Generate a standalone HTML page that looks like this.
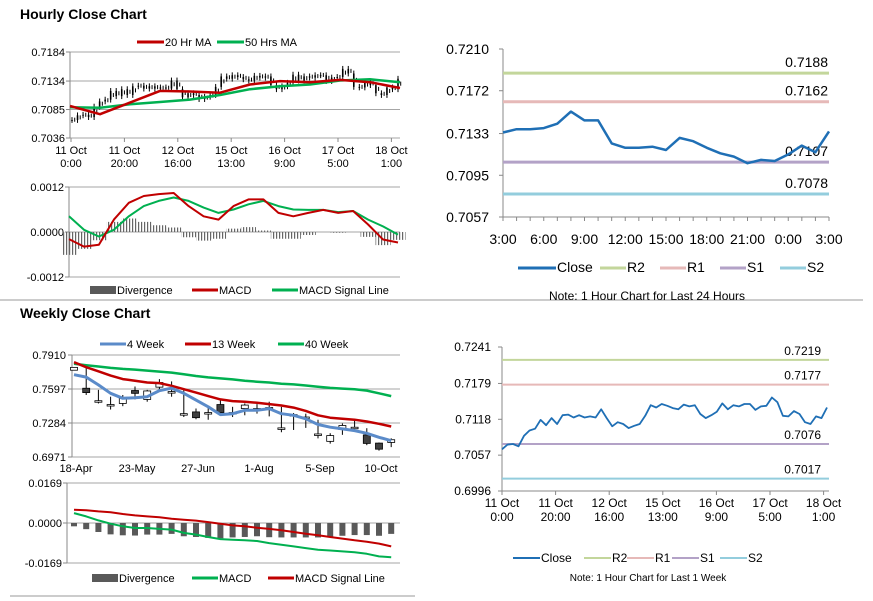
<!DOCTYPE html>
<html><head><meta charset="utf-8">
<style>
html,body{margin:0;padding:0;background:#fff;}
svg{display:block;font-family:"Liberation Sans",Arial,sans-serif;}
</style></head>
<body>
<svg id="s" width="873" height="601" viewBox="0 0 873 601" xmlns="http://www.w3.org/2000/svg">
<defs>
<pattern id="stripe" width="3" height="4" patternUnits="userSpaceOnUse"><rect x="0" y="0" width="1.2" height="4" fill="#666"/></pattern>
</defs>
<text x="20" y="19" font-size="14" font-weight="bold" fill="#000">Hourly Close Chart</text>
<text x="20" y="318" font-size="14" font-weight="bold" fill="#000">Weekly Close Chart</text>
<line x1="0" y1="300" x2="863" y2="300" stroke="#999" stroke-width="1"/>
<line x1="10" y1="596" x2="415" y2="596" stroke="#999" stroke-width="1"/>
<g id="g"></g>
</svg>
<script>
// ---------- data ----------
const hourlyClose=[0.7067,0.7075,0.7076,0.7072,0.7090,0.7099,0.7102,0.7117,0.7108,0.7120,0.7110,0.7125,0.7126,0.7121,0.7125,0.7121,0.7123,0.7121,0.7135,0.7120,0.7106,0.7113,0.7110,0.7103,0.7107,0.7110,0.7124,0.7142,0.7138,0.7144,0.7141,0.7137,0.7135,0.7143,0.7140,0.7142,0.7127,0.7120,0.7125,0.7131,0.7145,0.7135,0.7142,0.7140,0.7144,0.7144,0.7134,0.7140,0.7141,0.7155,0.7147,0.7124,0.7123,0.7132,0.7127,0.7113,0.7110,0.7123,0.7120,0.7138];
const ma20=[0.7091,0.7077,0.7097,0.7117,0.7116,0.7114,0.7128,0.7134,0.7132,0.7136,0.7132,0.7122];
const ma50=[0.7089,0.7088,0.7094,0.7098,0.7102,0.7110,0.7120,0.7125,0.7128,0.7135,0.7137,0.7132];
const hMacd=[-0.00019,-0.00039,-0.00034,0.00033,0.00078,0.00096,0.00101,0.00104,0.00069,0.00042,0.00033,0.00069,0.00087,0.00087,0.00051,0.00042,0.00051,0.00059,0.00051,0.00056,0.00020,-0.00020,-0.00028];
const hSignal=[0.00042,0.00006,-0.00012,0.00006,0.00042,0.00069,0.00083,0.00092,0.00083,0.00065,0.00051,0.00060,0.00074,0.00083,0.00069,0.00060,0.00059,0.00059,0.00053,0.00056,0.00033,0.00015,-0.00007];
const hTicks=["0.7184","0.7134","0.7085","0.7036"];
const hMacdTicks=["0.0012","0.0000","-0.0012"];
const hXLabels=[["11 Oct","0:00"],["11 Oct","20:00"],["12 Oct","16:00"],["15 Oct","13:00"],["16 Oct","9:00"],["17 Oct","5:00"],["18 Oct","1:00"]];

const wOpen=[0.7770,0.7604,0.7489,0.7454,0.7464,0.7583,0.7501,0.7614,0.7573,0.7370,0.7386,0.7380,0.7454,0.7380,0.7417,0.7417,0.7426,0.7239,0.7361,0.7339,0.7183,0.7115,0.7224,0.7245,0.7174,0.7099,0.7105];
const wClose=[0.7796,0.7564,0.7489,0.7454,0.7511,0.7557,0.7579,0.7657,0.7573,0.7370,0.7333,0.7380,0.7380,0.7380,0.7449,0.7417,0.7426,0.7239,0.7361,0.7339,0.7183,0.7168,0.7261,0.7245,0.7096,0.7043,0.7130];
const wHigh=[0.7798,0.7791,0.7589,0.7526,0.7542,0.7620,0.7589,0.7688,0.7667,0.7589,0.7417,0.7433,0.7495,0.7433,0.7464,0.7458,0.7480,0.7433,0.7376,0.7370,0.7314,0.7190,0.7280,0.7308,0.7236,0.7105,0.7143];
const wLow=[0.7770,0.7542,0.7464,0.7408,0.7439,0.7501,0.7480,0.7589,0.7526,0.7339,0.7318,0.7314,0.7370,0.7339,0.7355,0.7370,0.7345,0.7199,0.7220,0.7239,0.7142,0.7094,0.7175,0.7220,0.7080,0.7030,0.7062];
const w4=[0.7729,0.7707,0.7635,0.7557,0.7511,0.7517,0.7526,0.7582,0.7604,0.7557,0.7495,0.7433,0.7361,0.7370,0.7401,0.7401,0.7417,0.7370,0.7355,0.7323,0.7270,0.7245,0.7230,0.7214,0.7189,0.7152,0.7121];
const w13=[0.7844,0.7798,0.7760,0.7720,0.7688,0.7673,0.7657,0.7651,0.7626,0.7595,0.7564,0.7532,0.7501,0.7486,0.7479,0.7470,0.7458,0.7445,0.7426,0.7395,0.7355,0.7333,0.7323,0.7314,0.7298,0.7277,0.7252];
const w40=[0.7829,0.7816,0.7804,0.7791,0.7782,0.7776,0.7766,0.7757,0.7748,0.7732,0.7717,0.7704,0.7695,0.7685,0.7673,0.7664,0.7657,0.7645,0.7639,0.7629,0.7617,0.7607,0.7601,0.7595,0.7582,0.7557,0.7532];
const wMacd=[0.0042,0.0028,0.0011,-0.0003,-0.0014,-0.0021,-0.0021,-0.0025,-0.0028,-0.0042,-0.0049,-0.0059,-0.0068,-0.0071,-0.0073,-0.0076,-0.0085,-0.0092,-0.0099,-0.0106,-0.0113,-0.0116,-0.0120,-0.0124,-0.0130,-0.0141,-0.0145];
const wSignal=[0.0056,0.0054,0.0049,0.0045,0.0038,0.0032,0.0028,0.0024,0.0018,0.0014,0.0010,0.0004,-0.0003,-0.0010,-0.0014,-0.0020,-0.0025,-0.0031,-0.0038,-0.0045,-0.0052,-0.0059,-0.0066,-0.0073,-0.0079,-0.0087,-0.0099];
const wTicks=["0.7910","0.7597","0.7284","0.6971"];
const wMacdTicks=["0.0169","0.0000","-0.0169"];
const wXLabels=["18-Apr","23-May","27-Jun","1-Aug","5-Sep","10-Oct"];

const dayClose=[0.7134,0.7137,0.7137,0.7138,0.7142,0.7153,0.7145,0.7145,0.7124,0.7120,0.7120,0.7121,0.7118,0.7129,0.7126,0.7120,0.7115,0.7112,0.7106,0.7109,0.7108,0.7114,0.7122,0.7116,0.7135];
const dayTicks=["0.7210","0.7172","0.7133","0.7095","0.7057"];
const dayXLabels=["3:00","6:00","9:00","12:00","15:00","18:00","21:00","0:00","3:00"];
const dayLevels=[0.7188,0.7162,0.7107,0.7078];
const weekTicks=["0.7241","0.7179","0.7118","0.7057","0.6996"];
const weekLevels=[0.7219,0.7177,0.7076,0.7017];
const levelNames=["R2","R1","S1","S2"];

// ---------- helpers ----------
const NS="http://www.w3.org/2000/svg";
const G=document.getElementById('g');
function el(tag,attrs,parent){const e=document.createElementNS(NS,tag);for(const k in attrs)e.setAttribute(k,attrs[k]);(parent||G).appendChild(e);return e;}
function txt(x,y,s,size,anchor,name,fill){const t=el('text',{x:x,y:y,'font-size':size,'text-anchor':anchor||'start',fill:fill||'#000'});t.textContent=s;


return t;}
function lin(d0,d1,r0,r1){return v=>r0+(v-d0)*(r1-r0)/(d1-d0);}
function poly(pts,color,w,name){const p=el('polyline',{points:pts.map(p=>p[0].toFixed(1)+','+p[1].toFixed(1)).join(' '),fill:'none',stroke:color,'stroke-width':w,'stroke-linejoin':'round'});


return p;}
function hline(x1,x2,y,color,w,name){const l=el('line',{x1:x1,x2:x2,y1:y,y2:y,stroke:color,'stroke-width':w});


return l;}
function vline(x,y1,y2,color,w,name){const l=el('line',{x1:x,x2:x,y1:y1,y2:y2,stroke:color,'stroke-width':w});


return l;}
function legendLine(x,y,len,color,w,label,size,name){hline(x,x+len,y,color,w,name+'-swatch');txt(x+len+1,y+4,label,size,'start',name);}
function legendBar(x,y,len,label,size,name){const r=el('rect',{x:x,y:y-4,width:len,height:8,fill:'#595959'});


txt(x+len+1,y+4,label,size,'start',name);}
function yGrid(x0,x1,ys,labels,size,labX,name){ys.forEach((y,i)=>{hline(x0,x1,y,'#a6a6a6',1,name+'-gridline');hline(x0-4,x0,y,'#888',1,name+'-tick');txt(labX,y+4,labels[i],size,'end',name+'-label');});}

// ---------- Hourly candle chart ----------
{const x0=70,x1=400,yT=52,yB=138;
 const Y=lin(0.7184,0.7036,yT,yB);
 yGrid(x0,x1,hTicks.map(t=>Y(+t)),hTicks,11,65,'hourly-y');
 vline(x0,yT,yB,'#888',1,'hourly-y-axis');
 hXLabels.forEach((l,i)=>{const x=71+i*53.4;vline(x,yB,yB+4,'#888',1,'hourly-x-tick');txt(x,yB+16,l[0],11,'middle','hourly-x-label');txt(x,yB+29,l[1],11,'middle','hourly-x-label');});
 const X=lin(0,hourlyClose.length-1,x0+2,x1-2);
 hourlyClose.forEach((c,i)=>{const o=i?hourlyClose[i-1]:c;const x=X(i);
  vline(x,Y(Math.max(o,c)+0.0005),Y(Math.min(o,c)-0.0005),'#000',1,'hourly-candle-wick');
  vline(x+2.7,Y((o+c)/2+0.0004),Y((o+c)/2-0.0003),'#000',1,'hourly-candle-wick');
  const r=el('rect',{x:x-0.8,y:Y(Math.max(o,c)),width:1.6,height:Math.max(1,Math.abs(Y(o)-Y(c))),fill:'#000'});
  
  });
 const MX=lin(0,ma20.length-1,x0,x1);
 poly(ma50.map((v,i)=>[MX(i),Y(v)]),'#00B050',2.5,'ma50-line');
 poly(ma20.map((v,i)=>[MX(i),Y(v)]),'#C00000',2.5,'ma20-line');
 legendLine(137,42,27,'#C00000',3,'20 Hr MA',11,'legend-20hr-ma');
 legendLine(217,42,27,'#00B050',3,'50 Hrs MA',11,'legend-50hr-ma');
}
// ---------- Hourly MACD ----------
{const x0=69,x1=400,yT=187,yB=277;
 const Y=lin(0.0012,-0.0012,yT,yB);
 yGrid(x0,x1,hMacdTicks.map(t=>Y(+t)),hMacdTicks,11,64,'hourly-macd-y');
 vline(x0,yT,yB,'#888',1,'hourly-macd-y-axis');
 const X=lin(0,hMacd.length-1,x0,x1-2);const bw=(x1-x0)/(hMacd.length-1);
 hMacd.forEach((m,i)=>{const d=m-hSignal[i];const y0=Y(0),y1=Y(d);
  const r=el('rect',{x:X(i)-bw/2,y:Math.min(y0,y1),width:bw,height:Math.abs(y1-y0),fill:'url(#stripe)'});
  
  });
 poly(hSignal.map((v,i)=>[X(i),Y(v)]),'#00B050',2,'hourly-signal-line');
 poly(hMacd.map((v,i)=>[X(i),Y(v)]),'#C00000',2,'hourly-macd-line');
 legendBar(90,290,26,'Divergence',11,'legend-divergence');
 legendLine(192,290,26,'#C00000',3,'MACD',11,'legend-macd');
 legendLine(272,290,26,'#00B050',3,'MACD Signal Line',11,'legend-signal');
}
// ---------- Weekly candle chart ----------
{const x0=72,x1=400,yT=355,yB=457;
 const Y=lin(0.7910,0.6971,yT,yB);
 yGrid(x0,x1,wTicks.map(t=>Y(+t)),wTicks,11,66,'weekly-y');
 vline(x0,yT,yB,'#888',1,'weekly-y-axis');
 const X=i=>74+i*12.2;
 wXLabels.forEach((l,i)=>{const x=X(i*5)+2;txt(x,472,l,11,'middle','weekly-x-label');});
 wOpen.forEach((o,i)=>{const c=wClose[i],x=X(i);
  vline(x,Y(wHigh[i]),Y(wLow[i]),'#000',1,'weekly-candle-wick');
  const r=el('rect',{x:x-3.5,y:Y(Math.max(o,c)),width:7,height:Math.max(1.5,Math.abs(Y(o)-Y(c))),fill:c>=o?'#fff':'#404040',stroke:'#000','stroke-width':0.8});
  
  });
 poly(w40.map((v,i)=>[X(i),Y(v)]),'#00B050',2.5,'ma40w-line');
 poly(w13.map((v,i)=>[X(i),Y(v)]),'#C00000',2.5,'ma13w-line');
 poly(w4.map((v,i)=>[X(i),Y(v)]),'#5B8BC9',3,'ma4w-line');
 legendLine(100,344,26,'#5B8BC9',3,'4 Week',11,'legend-4-week');
 legendLine(185,344,26,'#C00000',3,'13 Week',11,'legend-13-week');
 legendLine(278,344,26,'#00B050',3,'40 Week',11,'legend-40-week');
}
// ---------- Weekly MACD ----------
{const x0=67,x1=400,yT=483,yB=563;
 const Y=lin(0.0169,-0.0169,yT,yB);
 yGrid(x0,x1,wMacdTicks.map(t=>Y(+t)),wMacdTicks,11,62,'weekly-macd-y');
 vline(x0,yT,yB,'#888',1,'weekly-macd-y-axis');
 const X=i=>74+i*12.2;
 wMacd.forEach((m,i)=>{const d=m-wSignal[i];const y0=Y(0),y1=Y(d);
  const r=el('rect',{x:X(i)-3,y:Math.min(y0,y1),width:6,height:Math.abs(y1-y0),fill:'#595959'});
  
  });
 poly(wMacd.map((v,i)=>[X(i),Y(v)]),'#00B050',2,'weekly-macd-line');
 poly(wSignal.map((v,i)=>[X(i),Y(v)]),'#C00000',2,'weekly-signal-line');
 legendBar(92,578,26,'Divergence',11,'legend-weekly-divergence');
 legendLine(192,578,26,'#00B050',3,'MACD',11,'legend-weekly-macd');
 legendLine(268,578,26,'#C00000',3,'MACD Signal Line',11,'legend-weekly-signal');
}
const lvlColors=['#C3D69B','#E6B9B8','#B3A2C7','#93CDDD'];
// ---------- Right top: 24h ----------
{const x0=503,x1=829,yT=49,yB=217;
 const Y=lin(0.7210,0.7057,yT,yB);
 dayTicks.forEach(t=>{hline(x0-4,x0,Y(+t),'#888',1,'day-y-tick');txt(489,Y(+t)+5,t,14,'end','day-y-label');});
 vline(x0,yT,yB,'#888',1,'day-y-axis');hline(x0,x1,yB,'#888',1,'day-x-axis');
 const X=lin(0,dayClose.length-1,x0,x1);
 for(let i=0;i<dayClose.length;i++)vline(X(i),yB,yB+4,'#888',1,'day-x-tick');
 dayXLabels.forEach((l,i)=>txt(X(i*3),244,l,14,'middle','day-x-label'));
 dayLevels.forEach((v,i)=>{hline(x0,x1,Y(v),lvlColors[i],3,'day-level-'+levelNames[i].toLowerCase());txt(828,Y(v)-6,v.toFixed(4),14,'end','day-level-label');});
 poly(dayClose.map((v,i)=>[X(i),Y(v)]),'#1F6FB5',2.5,'day-close-line');
 legendLine(518,268,38,'#1F6FB5',3,'Close',14,'legend-close');
 legendLine(600,268,26,lvlColors[0],3,'R2',14,'legend-r2');
 legendLine(660,268,26,lvlColors[1],3,'R1',14,'legend-r1');
 legendLine(720,268,26,lvlColors[2],3,'S1',14,'legend-s1');
 legendLine(780,268,26,lvlColors[3],3,'S2',14,'legend-s2');
 txt(647,300,'Note: 1 Hour Chart for Last 24 Hours',12,'middle','day-note');
}
// ---------- Right bottom: week ----------
{const x0=502,x1=829,yT=347,yB=491;
 const Y=lin(0.7241,0.6996,yT,yB);
 weekTicks.forEach(t=>{hline(x0-4,x0,Y(+t),'#888',1,'week-y-tick');txt(491,Y(+t)+4,t,12,'end','week-y-label');});
 vline(x0,yT,yB,'#888',1,'week-y-axis');hline(x0,x1,yB,'#888',1,'week-x-axis');
 hXLabels.forEach((l,i)=>{const x=502+i*53.6;vline(x,yB,yB+4,'#888',1,'week-x-tick');txt(x,507,l[0],12,'middle','week-x-label');txt(x,521,l[1],12,'middle','week-x-label');});
 weekLevels.forEach((v,i)=>{hline(x0,x1,Y(v),lvlColors[i],2,'week-level-'+levelNames[i].toLowerCase());txt(821,Y(v)-5,v.toFixed(4),12,'end','week-level-label');});
 const X=lin(0,hourlyClose.length-1,x0,x1-2);
 poly(hourlyClose.map((v,i)=>[X(i),Y(v)]),'#1F6FB5',1.8,'week-close-line');
 legendLine(513,558,27,'#1F6FB5',2,'Close',12,'legend-week-close');
 legendLine(584,558,27,lvlColors[0],2,'R2',12,'legend-week-r2');
 legendLine(627,558,27,lvlColors[1],2,'R1',12,'legend-week-r1');
 legendLine(672,558,27,lvlColors[2],2,'S1',12,'legend-week-s1');
 legendLine(720,558,27,lvlColors[3],2,'S2',12,'legend-week-s2');
 txt(648,581,'Note: 1 Hour Chart for Last 1 Week',10,'middle','week-note');
}
</script>
</body></html>
